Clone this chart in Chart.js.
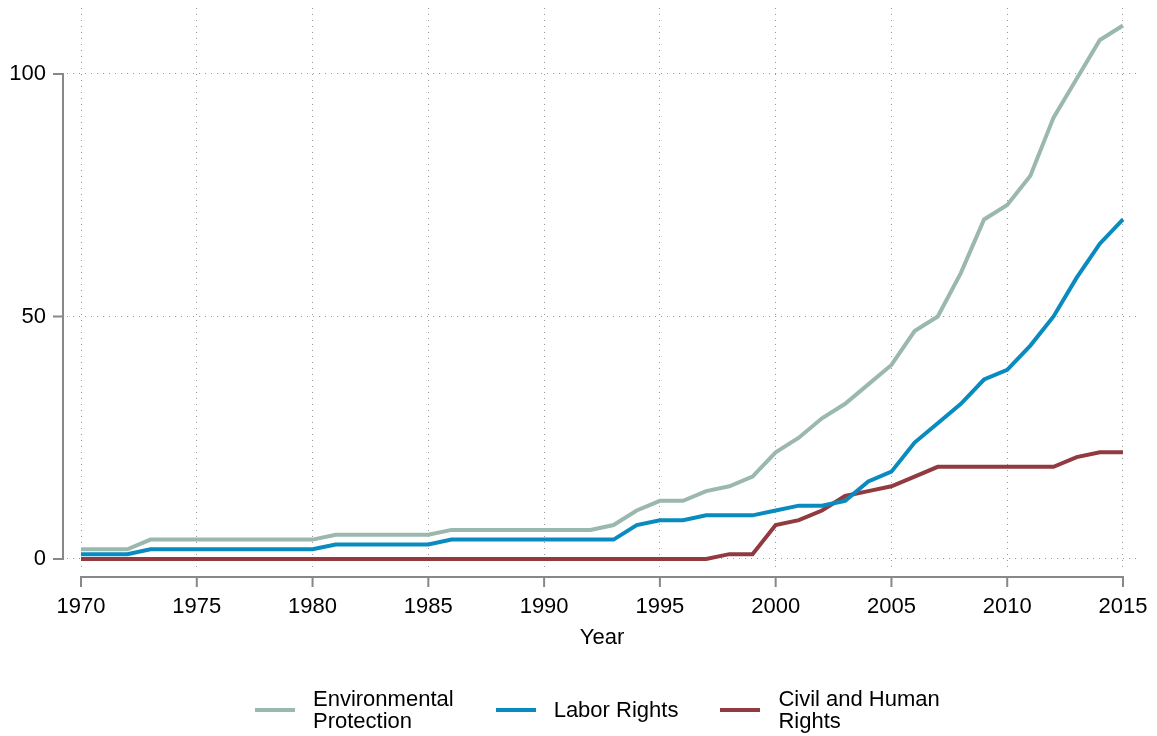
<!DOCTYPE html>
<html>
<head>
<meta charset="utf-8">
<script src="https://cdn.jsdelivr.net/npm/chart.js@4"></script>
<style>
    body { margin: 0; background: #fff; font-family: "Liberation Sans", Arial, sans-serif; }
    #wrap { position: relative; width: 1157px; height: 736px; }
    #legend { position: absolute; left: 255px; top: 688px; display: flex; align-items: center; gap: 42px; font-size: 22px; line-height: 22px; color: #000; }
    .item { display: flex; align-items: center; }
    .swatch { width: 40px; height: 4px; margin-right: 18px; }
</style>
</head>
<body>
<div id="wrap">
    <canvas id="myChart" width="1157" height="736"></canvas>
    <div id="legend"></div>
</div>
<script>
const years = [
    1970, 1971, 1972, 1973, 1974, 1975, 1976, 1977, 1978, 1979,
    1980, 1981, 1982, 1983, 1984, 1985, 1986, 1987, 1988, 1989,
    1990, 1991, 1992, 1993, 1994, 1995, 1996, 1997, 1998, 1999,
    2000, 2001, 2002, 2003, 2004, 2005, 2006, 2007, 2008, 2009,
    2010, 2011, 2012, 2013, 2014, 2015
];
const environmental = [
    2, 2, 2, 4, 4, 4, 4, 4, 4, 4,
    4, 5, 5, 5, 5, 5, 6, 6, 6, 6,
    6, 6, 6, 7, 10, 12, 12, 14, 15, 17,
    22, 25, 29, 32, 36, 40, 47, 50, 59, 70,
    73, 79, 91, 99, 107, 110
];
const labor = [
    1, 1, 1, 2, 2, 2, 2, 2, 2, 2,
    2, 3, 3, 3, 3, 3, 4, 4, 4, 4,
    4, 4, 4, 4, 7, 8, 8, 9, 9, 9,
    10, 11, 11, 12, 16, 18, 24, 28, 32, 37,
    39, 44, 50, 58, 65, 70
];
const civil = [
    0, 0, 0, 0, 0, 0, 0, 0, 0, 0,
    0, 0, 0, 0, 0, 0, 0, 0, 0, 0,
    0, 0, 0, 0, 0, 0, 0, 0, 1, 1,
    7, 8, 10, 13, 14, 15, 17, 19, 19, 19,
    19, 19, 19, 21, 22, 22
];
const xTicks = [1970, 1975, 1980, 1985, 1990, 1995, 2000, 2005, 2010, 2015];
const yTicks = [0, 50, 100];

const seriesNames = [['Environmental', 'Protection'], ['Labor Rights'], ['Civil and Human', 'Rights']];
const seriesColors = ['#9ab8ae', '#0a8bbf', '#913a3f'];

const axisColor = '#888888';
const gridColor = 'rgba(0,0,0,0.4)';
const font = { family: '"Liberation Sans", Arial, sans-serif', size: 22 };

function toPoints(values) {
    return years.map((yr, i) => ({ x: yr, y: values[i] }));
}

// axis lines sit a bit outside the plot region, like the original
const axisLines = {
    id: 'axisLines',
    afterDraw(chart) {
        const { ctx, chartArea } = chart;
        const x = chart.scales.x;
        const y = chart.scales.y;
        const ax = chartArea.left - 4;
        const ay = chartArea.bottom + 7;
        ctx.save();
        ctx.strokeStyle = axisColor;
        ctx.lineWidth = 2;
        ctx.beginPath();
        ctx.moveTo(ax, y.getPixelForValue(yTicks[0]));
        ctx.lineTo(ax, y.getPixelForValue(yTicks[yTicks.length - 1]));
        yTicks.forEach(v => {
            const py = y.getPixelForValue(v);
            ctx.moveTo(ax + 1, py);
            ctx.lineTo(ax - 10, py);
        });
        ctx.moveTo(x.getPixelForValue(xTicks[0]), ay);
        ctx.lineTo(x.getPixelForValue(xTicks[xTicks.length - 1]), ay);
        xTicks.forEach(v => {
            const px = x.getPixelForValue(v);
            ctx.moveTo(px, ay - 1);
            ctx.lineTo(px, ay + 10);
        });
        ctx.stroke();
        ctx.restore();
    }
};

const ctx = document.getElementById('myChart').getContext('2d');
const chart = new Chart(ctx, {
    type: 'line',
    data: {
        datasets: [environmental, labor, civil].map((vals, i) => ({
            label: seriesNames[i].join(' '),
            data: toPoints(vals),
            borderColor: seriesColors[i],
            backgroundColor: seriesColors[i],
            borderWidth: 4,
            pointRadius: 0,
            tension: 0
        }))
    },
    options: {
        responsive: false,
        animation: false,
        layout: { padding: { top: 8, right: 20, left: 0, bottom: 85 } },
        plugins: { legend: { display: false }, tooltip: { enabled: false } },
        scales: {
            x: {
                type: 'linear',
                min: 1969.395,
                max: 2015.605,
                afterBuildTicks: s => { s.ticks = xTicks.map(v => ({ value: v })); },
                afterFit: s => { s.height = 81; s.paddingLeft = 0; s.paddingRight = 0; },
                grid: { color: gridColor, lineWidth: 1, drawTicks: false },
                border: { display: false, dash: [1, 5] },
                ticks: { color: '#000', font: font, padding: 24, maxRotation: 0, autoSkip: false, callback: v => String(v) },
                title: { display: true, text: 'Year', color: '#000', font: font, padding: { top: 0, bottom: 0 } }
            },
            y: {
                min: -2.27,
                max: 113.6,
                afterBuildTicks: s => { s.ticks = yTicks.map(v => ({ value: v })); },
                afterFit: s => { s.width = 67; s.paddingTop = 0; s.paddingBottom = 0; },
                grid: { color: gridColor, lineWidth: 1, drawTicks: false },
                border: { display: false, dash: [1, 5] },
                ticks: { color: '#000', font: font, padding: 21 }
            }
        }
    },
    plugins: [axisLines]
});

// legend below the chart, two-line labels
const legendEl = document.getElementById('legend');
seriesNames.forEach((lines, i) => {
    const item = document.createElement('div');
    item.className = 'item';
    const sw = document.createElement('span');
    sw.className = 'swatch';
    sw.style.background = seriesColors[i];
    const txt = document.createElement('span');
    txt.innerHTML = lines.join('<br>');
    item.appendChild(sw);
    item.appendChild(txt);
    legendEl.appendChild(item);
});
</script>
</body>
</html>
